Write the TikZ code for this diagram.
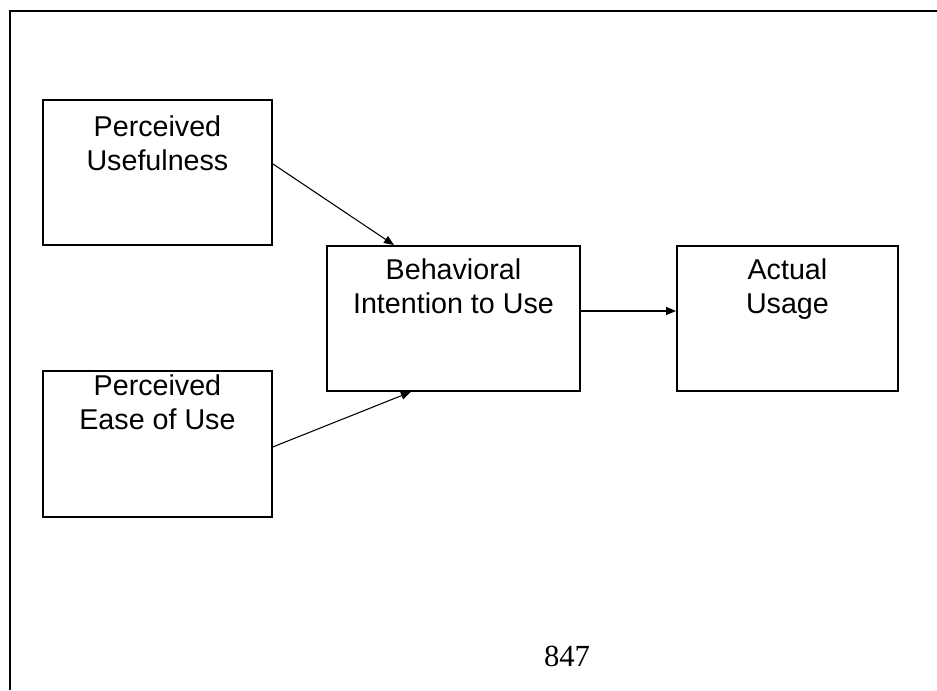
\documentclass[tikz,border=0pt]{standalone}
\usepackage{fontspec}
\setmainfont{Liberation Serif}
\newfontfamily\arialfont{Liberation Sans}
\usetikzlibrary{arrows.meta}

\begin{document}
\begin{tikzpicture}[x=0.75pt,y=-0.75pt,
    factor/.style={draw,line width=1.4pt,inner sep=0pt,anchor=north west},
    caption/.style={font=\arialfont\fontsize{21.5}{25.5}\selectfont,align=center,anchor=north,inner sep=0pt},
    link/.style={line width=0.8pt,-{Triangle[length=7.5pt,width=6pt]}}]
          \useasboundingbox (0,0) rectangle (937,690);
          \draw[line width=1.6pt] (10,690) -- (10,11) -- (937,11);
          % the four boxes
          \node[factor,minimum width=229*0.75pt,minimum height=145*0.75pt] (pu) at (42,99) {};
          \node[factor,minimum width=229*0.75pt,minimum height=146*0.75pt] (peou) at (42,370) {};
          \node[factor,minimum width=253*0.75pt,minimum height=145*0.75pt] (bi) at (326,245) {};
          \node[factor,minimum width=221*0.75pt,minimum height=145*0.75pt] (au) at (676,245) {};
          \node[caption] (putext) at ([yshift=-12pt]pu.north) {Perceived\\Usefulness};
          \node[caption] (peoutext) at ([yshift=-3.5pt]peou.north) {Perceived\\Ease of Use};
          \node[caption] (bitext) at ([yshift=-9.75pt]bi.north) {Behavioral\\Intention to Use};
          \node[caption] (autext) at ([yshift=-9.75pt]au.north) {Actual\\Usage};
          % arrows
          \draw[link] ([yshift=6.4pt]pu.east) -- ([xshift=-44.6pt]bi.north);
          \draw[link] ([yshift=-2.25pt]peou.east) -- ([xshift=-31.9pt]bi.south);
          \draw[link] ([yshift=5.6pt]bi.east) -- ([yshift=5.6pt]au.west);
          \node[font=\fontsize{23}{27}\selectfont,anchor=base,inner sep=0pt] (page) at (567,666) {847};
\end{tikzpicture}
\end{document}
